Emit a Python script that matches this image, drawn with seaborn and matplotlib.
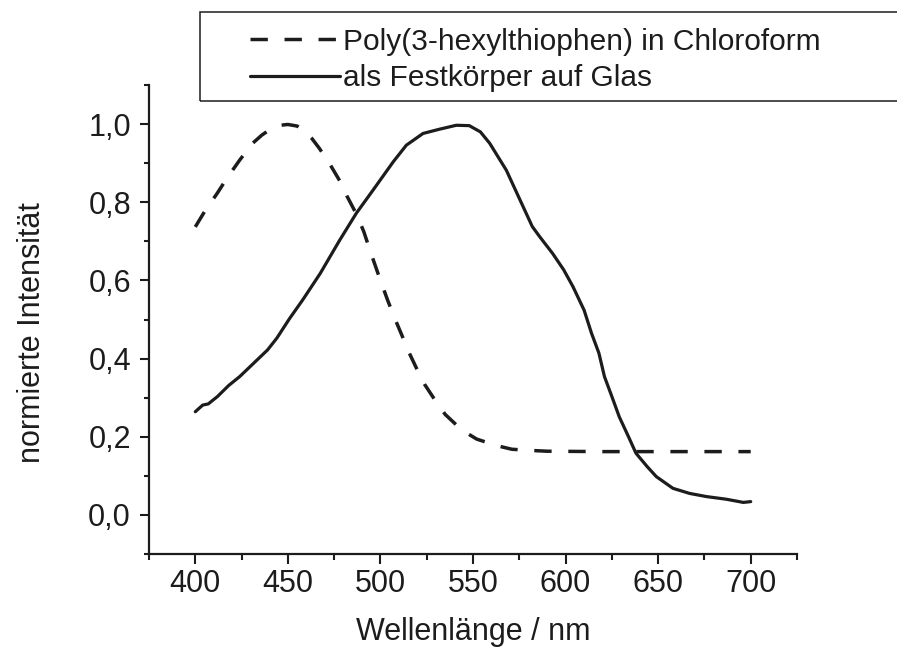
import matplotlib
matplotlib.use("Agg")
import matplotlib.pyplot as plt
from matplotlib.patches import Rectangle
from matplotlib.ticker import MultipleLocator, FuncFormatter
import pandas as pd
import seaborn as sns

# Poly(3-hexylthiophen) in Chloroform (dashed)
wl_solution = [400, 405, 412, 417, 424, 431, 436, 440, 446, 450, 455, 459, 463, 467,
               473, 478, 482, 487, 491, 495, 500, 504, 508, 512, 516, 520, 524, 530,
               535, 544, 552, 563, 571, 581, 590, 620, 660, 700]
int_solution = [0.737, 0.776, 0.824, 0.861, 0.908, 0.951, 0.972, 0.985, 0.997, 0.999,
                0.995, 0.982, 0.963, 0.938, 0.895, 0.855, 0.815, 0.770, 0.725, 0.668,
                0.600, 0.548, 0.500, 0.455, 0.410, 0.370, 0.333, 0.290, 0.257, 0.217,
                0.194, 0.177, 0.168, 0.165, 0.163, 0.162, 0.162, 0.162]

# als Festkoerper auf Glas (solid)
wl_film = [400, 404, 407, 412, 418, 424, 431.5, 439, 444, 451, 458, 467.5, 478, 487,
           496, 507, 514, 523, 532, 541, 548, 554, 559, 568, 575, 582, 586, 593, 599,
           604, 610, 614, 618, 621, 625, 629, 634, 638, 644, 649, 658, 667, 676, 687,
           696, 700]
int_film = [0.264, 0.281, 0.284, 0.303, 0.331, 0.354, 0.388, 0.422, 0.452, 0.503,
            0.550, 0.618, 0.703, 0.772, 0.831, 0.904, 0.946, 0.976, 0.987, 0.997,
            0.996, 0.980, 0.951, 0.882, 0.810, 0.738, 0.712, 0.669, 0.627, 0.584,
            0.524, 0.465, 0.414, 0.354, 0.303, 0.251, 0.200, 0.158, 0.124, 0.098,
            0.068, 0.055, 0.047, 0.040, 0.032, 0.034]

label_solution = "Poly(3-hexylthiophen) in Chloroform"
label_film = "als Festkörper auf Glas"

sns.set_theme(style="ticks")
plt.rcParams['font.family'] = ['Liberation Sans', 'DejaVu Sans']

ink = "#1c1c1c"
fs = 22

fig = plt.figure(figsize=(8.97, 6.51), dpi=100)
ax = fig.add_axes([149/897, 1-554/651, (797-149)/897, (554-85)/651])

sol = pd.DataFrame({"wl": wl_solution, "I": int_solution})
film = pd.DataFrame({"wl": wl_film, "I": int_film})

sns.lineplot(data=sol, x="wl", y="I", ax=ax, color=ink, lw=2.5,
             linestyle=(0, (5.0, 4.8)), label=label_solution)
sns.lineplot(data=film, x="wl", y="I", ax=ax, color=ink, lw=2.3,
             label=label_film)

ax.set_xlim(375, 725)
ax.set_ylim(-0.1, 1.1)
ax.xaxis.set_major_locator(MultipleLocator(50))
ax.xaxis.set_minor_locator(MultipleLocator(25))
ax.yaxis.set_major_locator(MultipleLocator(0.2))
ax.yaxis.set_minor_locator(MultipleLocator(0.1))
ax.yaxis.set_major_formatter(FuncFormatter(lambda v, p: f"{v:.1f}".replace(".", ",")))

sns.despine(ax=ax)
for s in ["left", "bottom"]:
    ax.spines[s].set_linewidth(1.6)
    ax.spines[s].set_color(ink)

ax.tick_params(axis="x", which="major", direction="out", length=7, width=1.5,
               labelsize=fs, pad=3.5, colors=ink)
ax.tick_params(axis="x", which="minor", direction="out", length=4.3, width=1.5, colors=ink)
ax.tick_params(axis="y", which="major", direction="out", length=6.5, width=1.5,
               labelsize=fs, pad=6.5, colors=ink)
ax.tick_params(axis="y", which="minor", direction="out", length=3.6, width=1.5, colors=ink)

ax.set_xlabel("Wellenlänge / nm", fontsize=fs, color=ink)
ax.set_ylabel("normierte Intensität", fontsize=fs, color=ink)
ax.xaxis.set_label_coords(0.5, -0.134)
ax.yaxis.set_label_coords(-0.158, 0.473)

# legend box runs off the right edge of the figure
fig.patches.append(Rectangle((200/897, 1-101/651), 0.8, 89/651, transform=fig.transFigure,
                             fill=False, edgecolor=ink, lw=1.1, zorder=5))
leg = ax.legend(loc="center left", bbox_to_anchor=(250/897, 1-60/651),
                bbox_transform=fig.transFigure, frameon=False, fontsize=21.5,
                handlelength=3.0, handletextpad=0.1, labelspacing=0.28,
                borderpad=0, borderaxespad=0)
for t in leg.get_texts():
    t.set_color(ink)

fig.savefig("out.png", dpi=100)
